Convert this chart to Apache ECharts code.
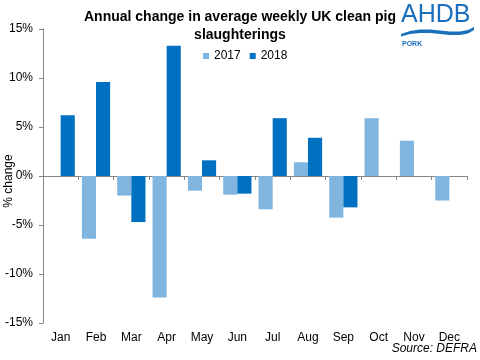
<!DOCTYPE html>
<html><head><meta charset="utf-8">
<script src="https://cdn.jsdelivr.net/npm/echarts@6/dist/echarts.min.js"></script>
<style>html,body{margin:0;padding:0;background:#fff}#c{width:480px;height:360px}</style>
</head><body><div id="c"></div>
<script>
var categories = ['Jan','Feb','Mar','Apr','May','Jun','Jul','Aug','Sep','Oct','Nov','Dec'];
var seriesNames = ['2017','2018'];
var values2017 = [null, -6.4, -2.0, -12.4, -1.5, -1.9, -3.4, 1.4, -4.25, 5.9, 3.6, -2.5];
var values2018 = [6.2, 9.6, -4.7, 13.3, 1.6, -1.8, 5.9, 3.9, -3.2, null, null, null];
var yTicks = {min: -15, max: 15, interval: 5};
var yAxisTitle = '% change';

var chart = echarts.init(document.getElementById('c'));
var font = 'Liberation Sans, Arial, sans-serif';
chart.setOption({
  animation: false,
  textStyle: {fontFamily: font},
  title: {
    text: 'Annual change in average weekly UK clean pig\nslaughterings',
    left: 'center', top: 3,
    textStyle: {fontSize: 14, fontWeight: 'bold', color: '#000', lineHeight: 18, fontFamily: font}
  },
  legend: {
    data: seriesNames, left: 198, top: 45, itemWidth: 6, itemHeight: 6, itemGap: 9,
    icon: 'rect', textStyle: {fontSize: 12, color: '#000', fontFamily: font}
  },
  grid: {left: 43, right: 13, top: 29, bottom: 37, containLabel: false, outerBoundsMode: 'none'},
  xAxis: [{
    type: 'category', data: categories, position: 'bottom',
    axisLine: {onZero: true, lineStyle: {color: '#868686'}},
    axisTick: {show: true, length: 4, lineStyle: {color: '#868686'}},
    axisLabel: {show: false}
  }, {
    type: 'category', data: categories, position: 'bottom',
    axisLine: {show: false, onZero: false}, axisTick: {show: false},
    axisLabel: {color: '#000', fontSize: 12, margin: 9, fontFamily: font}
  }],
  yAxis: {
    type: 'value', min: yTicks.min, max: yTicks.max, interval: yTicks.interval,
    axisLine: {show: true, lineStyle: {color: '#868686'}},
    axisTick: {show: true, length: 4, lineStyle: {color: '#868686'}},
    splitLine: {show: false},
    axisLabel: {formatter: '{value}%', color: '#000', fontSize: 12, margin: 10, fontFamily: font}
  },
  series: [
    {name: seriesNames[0], type: 'bar', data: values2017, itemStyle: {color: '#7FB5DF'}, barGap: '0%', barCategoryGap: '20%'},
    {name: seriesNames[1], type: 'bar', data: values2018, itemStyle: {color: '#0070C0'}, barGap: '0%', barCategoryGap: '20%'}
  ],
  graphic: [
    {type: 'text', x: 9, y: 181, rotation: Math.PI / 2, style: {text: yAxisTitle, fill: '#000', align: 'center', verticalAlign: 'middle', font: '12px Liberation Sans, Arial, sans-serif'}},
    {type: 'text', x: 401, y: 3, style: {text: 'AHDB', fill: '#1a6fbd', font: '25px Liberation Sans, Arial, sans-serif'}},
    {type: 'polygon', shape: {points: [[401,34],[410,31],[420,29.5],[430,29.5],[440,30.5],[450,31.5],[460,31.5],[468,30],[474,27],[474,30],[468,33.5],[460,35],[450,35],[440,34],[430,33],[420,33],[410,34],[401,36.5]]}, style: {fill: '#1a6fbd'}},
    {type: 'text', x: 402, y: 41, style: {text: 'PORK', fill: '#1a6fbd', font: 'bold 7px Liberation Sans, Arial, sans-serif'}},
    {type: 'text', x: 477, y: 343, style: {text: 'Source: DEFRA', fill: '#000', align: 'right', font: 'italic 12px Liberation Sans, Arial, sans-serif'}}
  ]
});
</script></body></html>
